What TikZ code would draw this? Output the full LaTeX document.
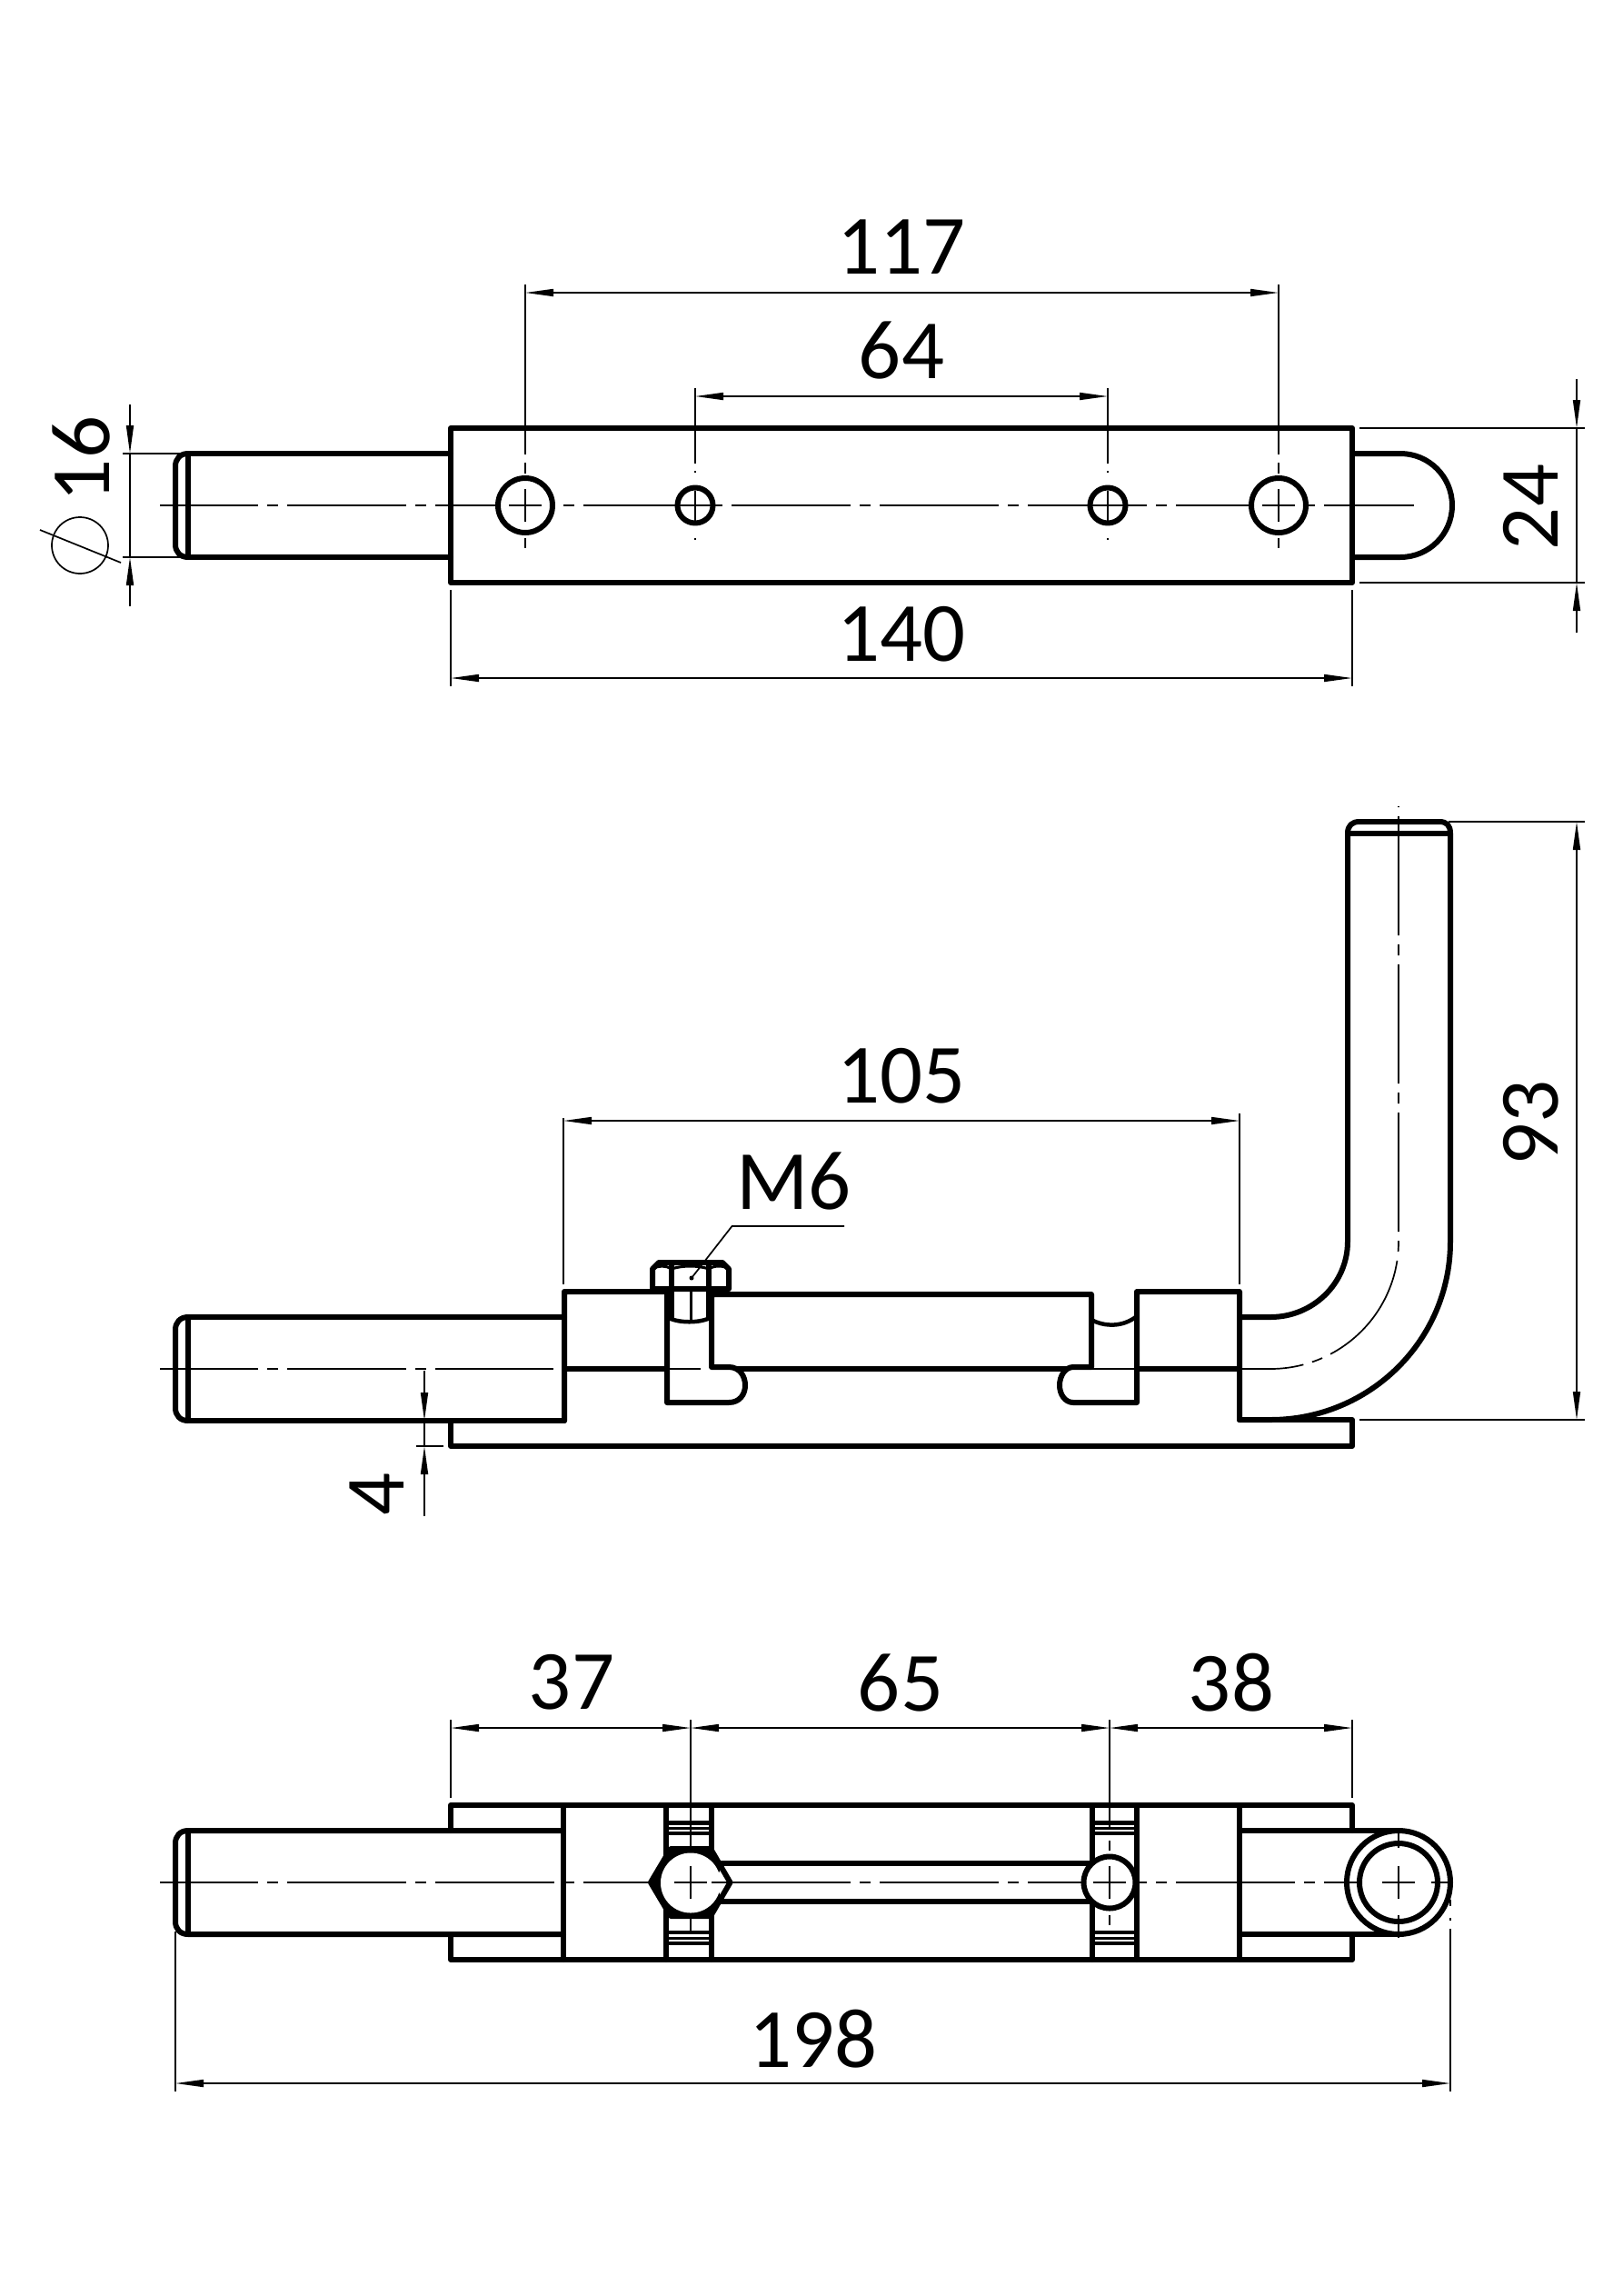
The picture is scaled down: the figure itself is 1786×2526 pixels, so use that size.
\documentclass[tikz,border=0pt]{standalone}
\usepackage{fontspec}
\setmainfont{Carlito}
\usetikzlibrary{arrows.meta}
\tikzset{
  part/.style={line width=.6mm, line join=round, line cap=round},
  fine/.style={line width=.3mm},
  bar/.style={line width=.45mm},
  thinline/.style={line width=.17mm},
  axis/.style={line width=.17mm, dash pattern=on 13.1mm off 1mm on 1.2mm off 1mm, dash phase=2.3mm},
  dimline/.style={line width=.17mm, {Triangle[length=3.1mm,width=.8mm]}-{Triangle[length=3.1mm,width=.8mm]}},
  tipline/.style={line width=.17mm, -{Triangle[length=3.1mm,width=.8mm]}},
  dimtext/.style={font=\fontsize{26.4}{30}\selectfont, inner sep=0pt},
  hole/.style={part, fill=white}
}
\begin{document}
\begin{tikzpicture}[x=.1mm, y=-.1mm]
\useasboundingbox (-1,0) rectangle (1785,2526);
% top view
\draw[axis] (175,556) -- (1555,556);
\draw[part] (495,471) rectangle (1487,641);
\draw[part] (495,499) -- (206,499) -- (206,613) -- (495,613);
\draw[part] (206,499) .. controls (197,499) and (192,505) .. (192,513) -- (192,599) .. controls (192,607) and (197,613) .. (206,613);
\draw[part] (1487,499) -- (1540,499) arc[start angle=-90, end angle=90, radius=57] -- (1487,613);
\foreach \x in {577,1406} {
  \draw[hole] (\x,556) circle[radius=30];
  \draw[thinline] (\x,538) -- (\x,574);
  \draw[thinline] (\x-18,556) -- (\x+18,556);
  \draw[thinline] (\x,509) -- (\x,521);
  \draw[thinline] (\x,592) -- (\x,603);
}
\foreach \x in {764,1218} {
  \draw[hole] (\x,556) circle[radius=19.5];
  \draw[thinline] (\x,540) -- (\x,573);
  \draw[thinline] (\x-17,556) -- (\x+17,556);
  \draw[thinline] (\x,518) -- (\x,520);
  \draw[thinline] (\x,592) -- (\x,594);
}
\draw[thinline] (577,313) -- (577,500);
\draw[thinline] (1406,313) -- (1406,500);
\draw[thinline] (764,427) -- (764,510);
\draw[thinline] (1218,427) -- (1218,510);
\draw[dimline] (577,322) -- (1406,322);
\draw[dimline] (764,436) -- (1218,436);
\node[dimtext] (T_117) at (991,271.5) {117};
\node[dimtext] (T_64) at (991,386) {64};
\draw[thinline] (495,649) -- (495,755);
\draw[thinline] (1487,649) -- (1487,755);
\draw[dimline] (495,746) -- (1487,746);
\node[dimtext] (T_140) at (991,698) {140};
\draw[thinline] (134,499) -- (206,499);
\draw[thinline] (134,613) -- (206,613);
\draw[tipline] (142,445) -- (142,499);
\draw[thinline] (142,499) -- (142,613);
\draw[tipline] (142,667) -- (142,613);
\node[dimtext, rotate=90] (T_16) at (89,505) {16};
\draw[thinline] (87,600) circle[radius=31];
\draw[thinline] (43,583) -- (132,619);
\draw[thinline] (1495,471) -- (1743,471);
\draw[thinline] (1495,641) -- (1743,641);
\draw[tipline] (1734,417) -- (1734,471);
\draw[thinline] (1734,471) -- (1734,641);
\draw[tipline] (1734,696) -- (1734,641);
\node[dimtext, rotate=90] (T_24) at (1683,558) {24};
% side view
\draw[axis] (175,1506) -- (608,1506);
\draw[thinline] (733,1506) -- (770,1506);
\draw[thinline] (1200,1506) -- (1250,1506);
\draw[axis, dash phase=15.2mm] (1538,887) -- (1538,1366) arc[start angle=0, end angle=90, x radius=141, y radius=140] -- (1365,1506);
\draw[part] (620,1449) -- (206,1449) -- (206,1563) -- (620,1563);
\draw[part] (206,1449) .. controls (197,1449) and (192,1455) .. (192,1463) -- (192,1549) .. controls (192,1557) and (197,1563) .. (206,1563);
\draw[part] (495,1563) -- (495,1591) -- (1487,1591) -- (1487,1562) -- (1363,1562);
\draw[part] (620,1563) -- (620,1421) -- (733,1421) -- (733,1543) -- (801,1543) .. controls (813,1543) and (819,1534) .. (819,1524) .. controls (819,1514) and (813,1504) .. (801,1504) -- (782,1504) -- (782,1424) -- (1200,1424) -- (1200,1504) -- (1180,1504) .. controls (1171,1504) and (1165,1514) .. (1165,1524) .. controls (1165,1534) and (1171,1543) .. (1180,1543) -- (1250,1543) -- (1250,1421) -- (1363,1421) -- (1363,1562);
\draw[part] (620,1506) -- (733,1506);
\draw[part] (810,1506) -- (1172,1506);
\draw[part] (1250,1506) -- (1363,1506);
\draw[bar] (733,1449) .. controls (745,1456) and (770,1456) .. (782,1449);
\draw[bar] (1200,1452) .. controls (1215,1460) and (1235,1460) .. (1250,1448);
% bolt
\draw[part] (717,1418) -- (717,1396) -- (724,1389) -- (794,1389) -- (801,1396) -- (801,1418) -- cycle;
\draw[part] (738,1389) -- (738,1450);
\draw[part] (779,1389) -- (779,1450);
\draw[fine] (759,1421) -- (759,1452);
\draw[fine] (738,1396) .. controls (750,1392) and (767,1392) .. (779,1396);
\draw[fine] (717,1396) .. controls (723,1392) and (732,1392) .. (738,1396);
\draw[fine] (779,1396) .. controls (785,1392) and (795,1392) .. (801,1396);
% hook
\draw[part] (1365,1449) -- (1397,1449) arc[start angle=90, end angle=0, x radius=85, y radius=83] -- (1482,917) .. controls (1482,908) and (1487,904) .. (1495,904) -- (1583,904) .. controls (1591,904) and (1595,908) .. (1595,917) -- (1595,1366) arc[start angle=0, end angle=90, x radius=198, y radius=196] -- (1363,1562);
\draw[part] (1482,917) -- (1595,917);
\fill (760,1406) circle[radius=2.5];
\draw[thinline] (760,1406) -- (804.5,1349) -- (928,1349);
\node[dimtext] (T_M6) at (872.5,1299) {M6};
\draw[thinline] (619,1230) -- (619,1413);
\draw[thinline] (1363,1225) -- (1363,1413);
\draw[dimline] (619,1233) -- (1363,1233);
\node[dimtext] (T_105) at (991,1184) {105};
\draw[thinline] (1593,904) -- (1743,904);
\draw[thinline] (1495,1562) -- (1743,1562);
\draw[dimline] (1734,904) -- (1734,1562);
\node[dimtext, rotate=90] (T_93) at (1684,1235) {93};
\draw[tipline] (466,1508) -- (466,1563);
\draw[thinline] (466,1563) -- (466,1591);
\draw[tipline] (466,1668) -- (466,1591);
\draw[thinline] (457,1591) -- (487,1591);
\node[dimtext, rotate=90] (T_4) at (414,1644) {4};
% bottom view
\draw[axis] (175,2071) -- (1500,2071);
\draw[part] (495,2014) -- (495,1986) -- (1487,1986) -- (1487,2014);
\draw[part] (495,2128) -- (495,2156) -- (1487,2156) -- (1487,2128);
\draw[part] (206,2014) -- (206,2128);
\draw[part] (619,2014) -- (206,2014) .. controls (197,2014) and (192,2020) .. (192,2028) -- (192,2114) .. controls (192,2122) and (197,2128) .. (206,2128) -- (619,2128);
\draw[part] (619,1986) -- (619,2156);
\draw[part] (1363,1986) -- (1363,2156);
\draw[part] (1363,2014) -- (1538,2014);
\draw[part] (1363,2128) -- (1538,2128);
\draw[part] (1538,2071) circle[radius=57];
\draw[hole] (1538,2071) circle[radius=43];
\foreach \x in {732,782,1201,1250} {
  \draw[part] (\x,1986) -- (\x,2156);
}
\foreach \x/\xx in {732/782,1201/1250} {
  \foreach \y in {2005.5,2017,2126,2138} {
    \draw[bar] (\x,\y) -- (\xx,\y);
  }
  \foreach \y in {2011,2132} {
    \draw[fine] (\x,\y) -- (\xx,\y);
  }
}
\draw[part] (782,2050) -- (1201,2050);
\draw[part] (782,2092) -- (1201,2092);
\draw[hole] (1220,2071) circle[radius=28.5];
\draw[part, fill=white] (715,2071) -- (737,2034) -- (781,2034) -- (802.5,2071) -- (781,2108) -- (737,2108) -- cycle;
\fill (715,2071) -- (737,2034) -- (781,2034) -- (793,2054) -- (785,2071) -- (793,2088) -- (781,2108) -- (737,2108) -- cycle;
\fill[white] (759,2071.5) circle[radius=33];
\draw[thinline] (802,2071) -- (782,2071);
\foreach \x in {759,1220,1538} {
  \draw[thinline] (\x,2053) -- (\x,2089);
  \draw[thinline] (\x-18,2071) -- (\x+18,2071);
}
\draw[thinline] (759,1892) -- (759,2034);
\draw[thinline] (759,2108) -- (759,2126);
\draw[thinline] (1220,1892) -- (1220,2013);
\draw[thinline] (1220,2025) -- (1220,2036);
\draw[thinline] (1220,2107) -- (1220,2118);
\draw[thinline] (1574,2071) -- (1598,2071);
\draw[thinline] (1538,2012) -- (1538,2033);
\draw[thinline] (1538,2107) -- (1538,2132);
\draw[thinline] (495,1892) -- (495,1978);
\draw[thinline] (1487,1892) -- (1487,1978);
\draw[dimline] (495,1901) -- (759,1901);
\draw[dimline] (759,1901) -- (1220,1901);
\draw[dimline] (1220,1901) -- (1487,1901);
\node[dimtext] (T_37) at (628,1851) {37};
\node[dimtext] (T_65) at (990,1851) {65};
\node[dimtext] (T_38) at (1354,1851) {38};
\draw[thinline] (192,2125) -- (192,2301);
\draw[thinline] (1595,2090) -- (1595,2097);
\draw[thinline] (1595,2110) -- (1595,2113);
\draw[thinline] (1595,2122) -- (1595,2301);
\draw[dimline] (192,2292) -- (1595,2292);
\node[dimtext] (T_198) at (894,2243) {198};
\end{tikzpicture}
\end{document}
